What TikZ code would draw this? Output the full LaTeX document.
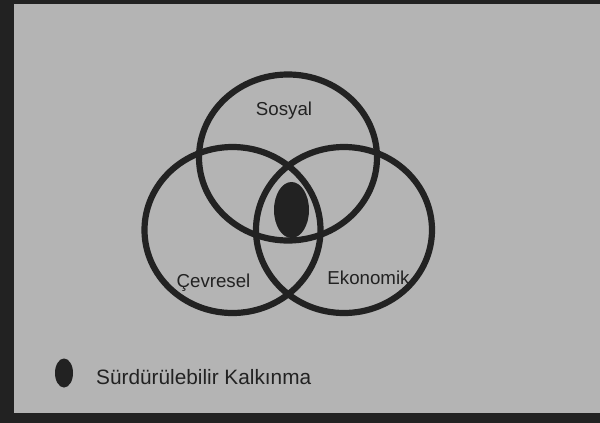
\documentclass[tikz,border=0pt]{standalone}
\usepackage{fontspec}
\setmainfont{Liberation Sans}
\definecolor{panelgray}{HTML}{B4B4B4}
\definecolor{inkdark}{HTML}{222222}
\tikzset{
  ring/.style={draw=inkdark,line width=6.2pt},
  lbl/.style={text=inkdark,font=\fontsize{18.7}{21}\selectfont,inner sep=0pt}
}
\begin{document}
\begin{tikzpicture}[x=1pt,y=-1pt,line cap=round,line join=round]
  \useasboundingbox (0,0) rectangle (600,423);
  \fill[inkdark] (0,0) rectangle (600,423);
  \fill[panelgray] (14,4) rectangle (600,413);
  % the three rings
  \draw[ring] (288,157.5) ellipse (89 and 83);
  \draw[ring] (232.5,230) ellipse (88 and 83);
  \draw[ring] (344,230) ellipse (88 and 83);
  \fill[inkdark] (291.5,210) ellipse (17.5 and 28);
  \node[lbl] (sosyal) at (284,111) {Sosyal};
  \node[lbl] (cevresel) at (213.5,283) {Çevresel};
  \node[lbl] (ekonomik) at (368.5,278) {Ekonomik};
  % legend
  \fill[inkdark] (64,373) ellipse (9 and 14.5);
  \node[lbl,anchor=west,font=\fontsize{20.8}{23}\selectfont] (legend) at (96,377) {Sürdürülebilir Kalkınma};
\end{tikzpicture}
\end{document}
